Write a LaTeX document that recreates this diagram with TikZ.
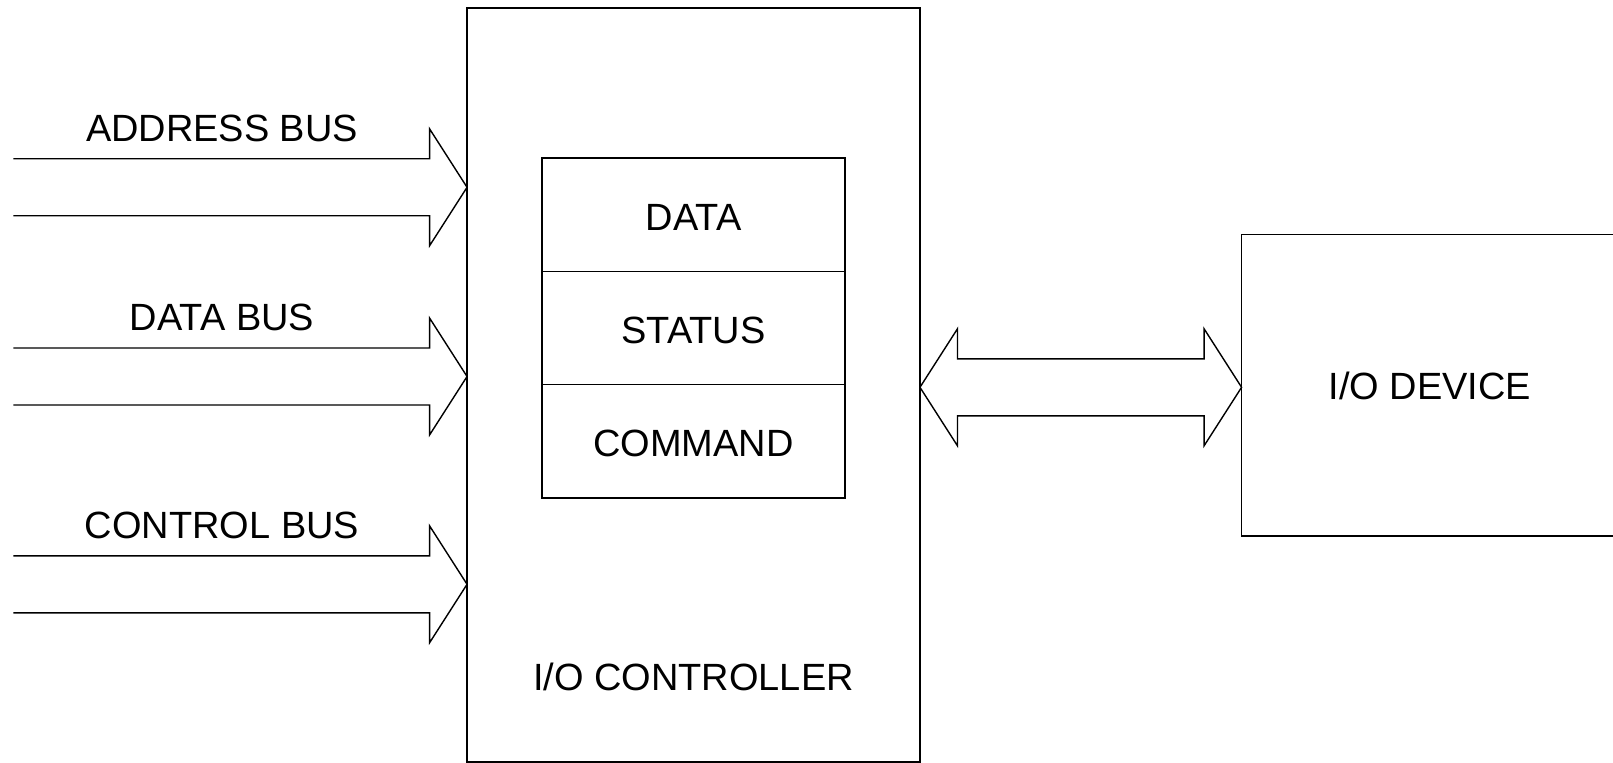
\documentclass[tikz,border=0pt]{standalone}
\usepackage{fontspec}
\setmainfont{Liberation Sans}
\usetikzlibrary{calc,positioning}

\tikzset{
  unitbox/.style={draw,rectangle,inner sep=0pt,outer sep=0pt,font=\fontsize{21.6}{26}\selectfont},
  regbox/.style={unitbox,minimum width=6.06cm,minimum height=2.266cm,text height=17.8pt,text depth=0pt},
  buslabel/.style={anchor=base,font=\fontsize{21.6}{26}\selectfont}
}

\begin{document}
\begin{tikzpicture}[x=0.02cm,y=-0.02cm,line join=miter,line width=0.8pt]
\useasboundingbox (0,0) rectangle (1613,763);
% controller and its registers
\node[unitbox,minimum width=9.06cm,minimum height=15.08cm] (ctrl) at (693.5,385) {};
\node[regbox] (data) at (693.5,214.8) {DATA};
\node[regbox,below=0pt of data] (status) {STATUS};
\node[regbox,below=0pt of status] (cmd) {COMMAND};
\node[buslabel] (ctrlname) at (693.5,690) {I/O CONTROLLER};
% device, runs off the right edge
\node[unitbox,minimum width=7.53cm,minimum height=6.034cm] (dev) at (1429.8,385.2) {};
\node[buslabel] (devname) at (1430,399.5) {I/O DEVICE};
% system buses into the controller
\foreach \y/\name/\i in {187.3/ADDRESS BUS/a,376.5/DATA BUS/d,584.3/CONTROL BUS/c}{
  \path (0,\y) coordinate (b\i);
  \coordinate (t\i) at (ctrl.west |- b\i);
  \draw ($(t\i)+(-453.6,-28.5)$) -- ($(t\i)+(-37.5,-28.5)$) -- ($(t\i)+(-37.5,-58.5)$) -- (t\i)
    -- ($(t\i)+(-37.5,58.5)$) -- ($(t\i)+(-37.5,28.5)$) -- ($(t\i)+(-453.6,28.5)$);
  \node[buslabel] (lbl\i) at ($(t\i)+(-245,-46)$) {\name};
}
% link between controller and device
\path (0,387.3) coordinate (mid);
\coordinate (l) at (ctrl.east |- mid);
\coordinate (r) at (dev.west |- mid);
\draw (l) -- ($(l)+(37.5,-58.5)$) -- ($(l)+(37.5,-28.5)$) -- ($(r)+(-37.5,-28.5)$) -- ($(r)+(-37.5,-58.5)$)
  -- (r) -- ($(r)+(-37.5,58.5)$) -- ($(r)+(-37.5,28.5)$) -- ($(l)+(37.5,28.5)$) -- ($(l)+(37.5,58.5)$) -- cycle;
\end{tikzpicture}
\end{document}
